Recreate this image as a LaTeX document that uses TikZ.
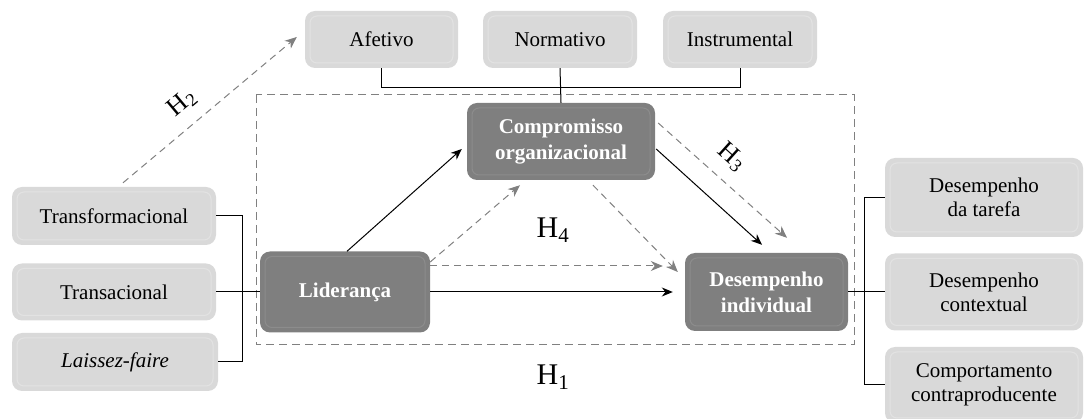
\documentclass[tikz,border=0pt]{standalone}
\usepackage{fontspec}
\setmainfont{Liberation Serif}
\usetikzlibrary{arrows.meta,calc}
\definecolor{lightbox}{HTML}{D9D9D9}
\definecolor{darkbox}{HTML}{7F7F7F}
\definecolor{arrowgray}{HTML}{808080}
\tikzset{
  base/.style={rounded corners=10pt, inner sep=2pt, align=center},
  light/.style={base, fill=lightbox, text=black,
    font=\fontsize{21}{24}\selectfont,
    path picture={\draw[white, opacity=0.25, line width=1pt, rounded corners=7pt]
      ([shift={(5pt,-5pt)}]path picture bounding box.north west) rectangle
      ([shift={(-5pt,5pt)}]path picture bounding box.south east);}},
  dark/.style={base, fill=darkbox, text=white,
    font=\fontsize{21}{26}\selectfont\bfseries,
    path picture={\draw[white, opacity=0.1, line width=1pt, rounded corners=7pt]
      ([shift={(5pt,-5pt)}]path picture bounding box.north west) rectangle
      ([shift={(-5pt,5pt)}]path picture bounding box.south east);}},
  link/.style={black, line width=1pt},
  solidarrow/.style={black, line width=1pt, -{Stealth[length=11pt,width=9pt]}},
  dasharrow/.style={arrowgray, line width=1pt, dash pattern=on 7pt off 5pt, -{Stealth[length=12pt,width=10pt]}},
  hlabel/.style={font=\fontsize{30}{30}\selectfont, inner sep=0pt},
  hlabelsmall/.style={font=\fontsize{26}{26}\selectfont, inner sep=0pt},
}
\begin{document}
\begin{tikzpicture}[x=1pt,y=-1pt]
\useasboundingbox (0,0) rectangle (1085,419);
% dashed frame
\draw[arrowgray, line width=1pt, dash pattern=on 8pt off 5pt] (256,95) rectangle (854,345);
% top boxes
\node[light, minimum width=153pt, minimum height=57pt] (afe) at (381.5,39.5) {Afetivo};
\node[light, minimum width=154pt, minimum height=57pt] (nor) at (560,39.5) {Normativo};
\node[light, minimum width=154pt, minimum height=57pt] (ins) at (740,39.5) {Instrumental};
% core boxes
\node[dark, minimum width=188pt, minimum height=77pt] (com) at (561,141.5) {Compromisso\\organizacional};
\node[dark, minimum width=170pt, minimum height=81pt] (lid) at (345,292) {Liderança};
\node[dark, minimum width=163pt, minimum height=78pt] (des) at (766.5,292) {Desempenho\\individual};
% left boxes
\node[light, minimum width=204pt, minimum height=58pt] (tf) at (114,216) {Transformacional};
\node[light, minimum width=204pt, minimum height=57pt] (ts) at (114,292) {Transacional};
\node[light, minimum width=206pt, minimum height=58pt] (lf) at (115,362) {\itshape Laissez-faire};
% right boxes
\node[light, minimum width=198pt, minimum height=79pt] (dt) at (984,197.5) {Desempenho\\da tarefa};
\node[light, minimum width=198pt, minimum height=77pt] (dc) at (984,292) {Desempenho\\contextual};
\node[light, minimum width=198pt, minimum height=76pt] (cc) at (984,385) {Comportamento\\contraproducente};
% brackets
\draw[link] (afe.south) -- ++(0,19) -| (ins.south);
\draw[link] (nor.south) -- (com.north);
\draw[link] (tf.east) -- ++(26,0) |- (lf.east);
\draw[link] (ts.east) -- (lid.west);
\draw[link] (dt.west) -- ++(-20,0) |- (cc.west);
\draw[link] (des.east) -- (dc.west);
% arrows
\draw[dasharrow] ($(tf.north)+(9,-4)$) -- ($(afe.west)+(-8,-2.5)$);
\draw[solidarrow] ($(lid.north)+(2,0)$) -- ($(com.west)+(-5,7.5)$);
\draw[dasharrow] ($(lid.east)+(0,-30)$) -- ($(com.south)+(-41,5)$);
\draw[dasharrow] ($(lid.east)+(0,-26)$) -- ($(des.west)+(-22,-26)$);
\draw[solidarrow] (lid.east) -- ($(des.west)+(-12,0)$);
\draw[dasharrow] ($(com.south)+(32,5)$) -- ($(des.west)+(-7,-20)$);
\draw[solidarrow] ($(com.east)+(1,7.5)$) -- ($(des.north)+(-4.5,-8)$);
\draw[dasharrow] ($(com.east)+(3,-18.5)$) -- ($(des.north)+(20.5,-15)$);
% labels
\node[hlabelsmall, rotate=40] (h2) at (182,103) {H\textsubscript{2}};
\node[hlabelsmall, rotate=-42] (h3) at (732,157) {H\kern0.5pt\textsubscript{3}};
\node[hlabel] (h4) at (553,230) {H\textsubscript{4}};
\node[hlabel] (h1) at (553,377) {H\textsubscript{1}};
\end{tikzpicture}
\end{document}
